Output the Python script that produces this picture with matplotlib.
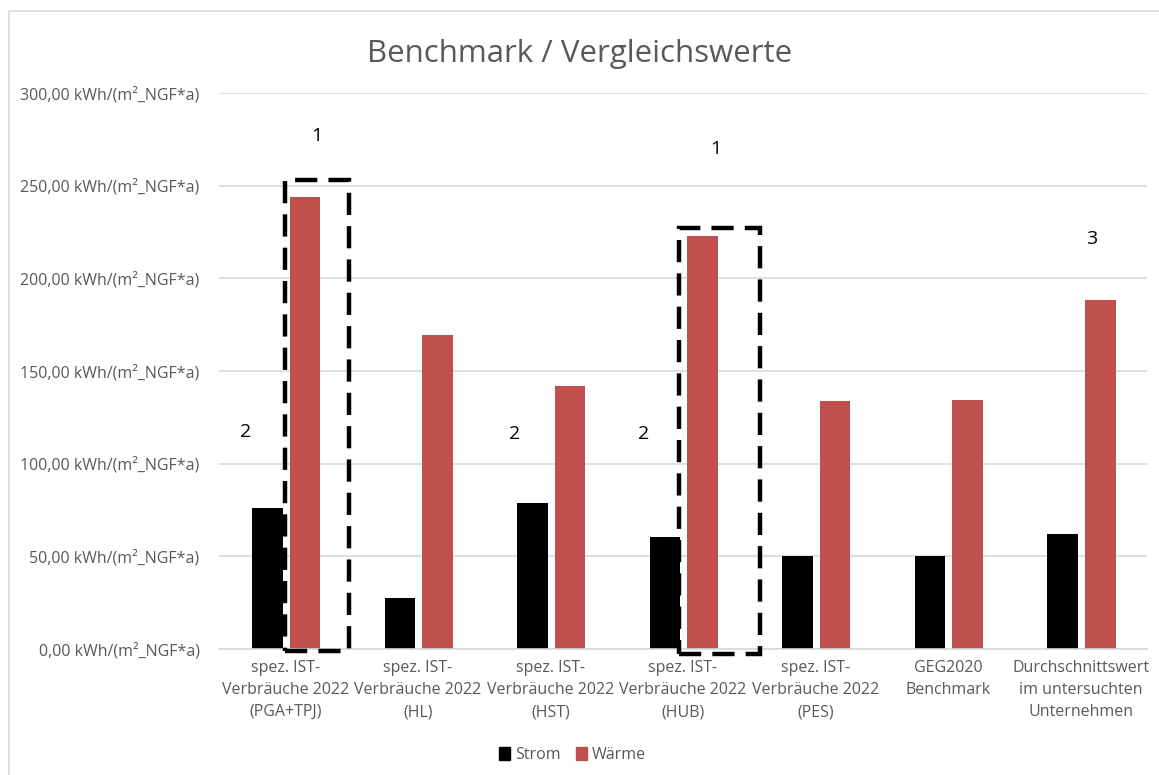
import matplotlib.pyplot as plt
import numpy as np
from matplotlib.patches import Rectangle, Patch
from matplotlib.ticker import FuncFormatter

categories = [
    "spez. IST-\nVerbräuche 2022\n(PGA+TPJ)",
    "spez. IST-\nVerbräuche 2022\n(HL)",
    "spez. IST-\nVerbräuche 2022\n(HST)",
    "spez. IST-\nVerbräuche 2022\n(HUB)",
    "spez. IST-\nVerbräuche 2022\n(PES)",
    "GEG2020\nBenchmark",
    "Durchschnittswert\nim untersuchten\nUnternehmen",
]
strom = [76.0, 27.6, 78.7, 60.4, 50.0, 50.0, 61.8]
waerme = [244.1, 169.4, 141.9, 223.1, 133.9, 134.4, 188.2]

# hand-drawn markers on the original slide: (text, x in category units, y in data units)
notes = [("1", 0.24, 277), ("1", 3.25, 270), ("3", 6.08, 221),
         ("2", -0.3, 117), ("2", 1.73, 116), ("2", 2.7, 116)]
# dashed boxes: (x0, x1, y0, y1)
boxes = [(0.0, 0.48, -1.0, 253.0), (2.97, 3.58, -2.7, 227.4)]

plt.rcParams["font.family"] = ["Open Sans", "DejaVu Sans"]
gray = "#595959"

fig = plt.figure(figsize=(11.59, 7.75), dpi=100)
ax = fig.add_axes([0.189, 0.1626, 0.8007, 0.7174])

x = np.arange(len(categories))
w = 0.23
ax.bar(x - 0.136, strom, w, color="black", label="Strom", zorder=2)
ax.bar(x + 0.147, waerme, w, color="#c0504d", label="Wärme", zorder=2)

ax.set_xlim(-0.5, len(categories) - 0.5)
ax.set_ylim(0, 300)
ax.set_yticks(np.arange(0, 301, 50))
ax.yaxis.set_major_formatter(FuncFormatter(
    lambda v, p: f"{v:.2f}".replace(".", ",") + " kWh/(m²_NGF*a)"))
ax.set_xticks(x)
ax.set_xticklabels(categories, fontsize=11.5, color=gray, linespacing=1.5)
ax.tick_params(axis="y", labelsize=11.5, labelcolor=gray, length=0, pad=14)
ax.tick_params(axis="x", length=0, pad=8)
ax.grid(axis="y", color="#d9d9d9", linewidth=1.2, zorder=0)
for s in ["top", "right", "left"]:
    ax.spines[s].set_visible(False)
ax.spines["bottom"].set_color("#d9d9d9")
ax.spines["bottom"].set_linewidth(1.2)

for x0, x1, y0, y1 in boxes:
    ax.add_patch(Rectangle((x0, y0), x1 - x0, y1 - y0, fill=False, edgecolor="black",
                           linewidth=3.2, linestyle=(0, (5, 2.5)), zorder=3, clip_on=False))

for t, tx, ty in notes:
    ax.text(tx, ty, t, fontsize=14, ha="center", va="center", color="black")

fig.suptitle("Benchmark / Vergleichswerte", fontsize=22.5, color=gray, y=0.95)

handles = [Patch(color="black", label="Strom"), Patch(color="#c0504d", label="Wärme")]
fig.legend(handles=handles, loc="center", bbox_to_anchor=(0.494, 0.026), ncol=2,
           frameon=False, fontsize=11.5, labelcolor=gray, handlelength=0.7,
           handleheight=0.9, handletextpad=0.3, columnspacing=1.0)

fig.patches.append(Rectangle((0.008, -0.01), 1.0, 0.996, transform=fig.transFigure,
                             fill=False, edgecolor="#d9d9d9", linewidth=1.2))

fig.savefig("out.png", dpi=100)
